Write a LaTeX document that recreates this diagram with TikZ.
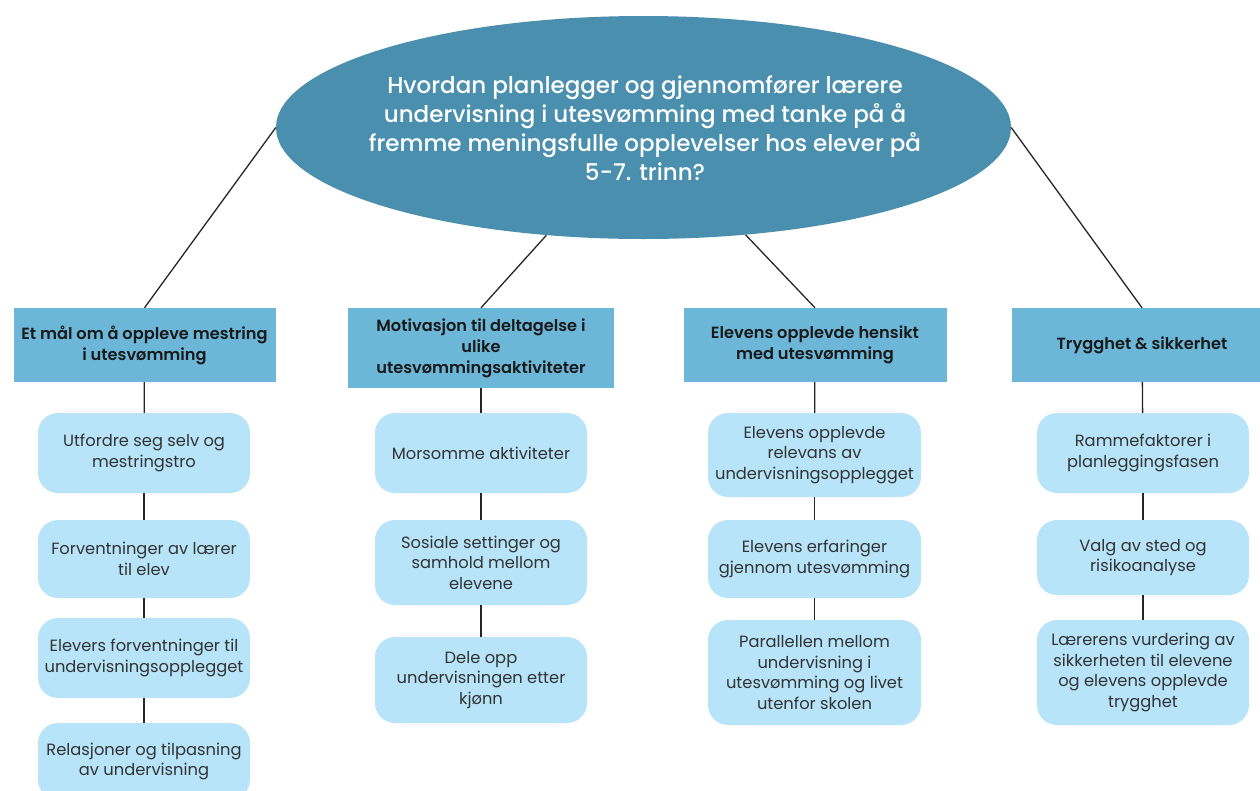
\documentclass[tikz,border=0pt]{standalone}
\usepackage{fontspec}
\setmainfont{Poppins}
\newfontfamily\medfont{Poppins Medium}
\newfontfamily\semifont{Poppins SemiBold}
\usetikzlibrary{shapes.geometric}
\definecolor{ellc}{HTML}{4A90AE}
\definecolor{hdrc}{HTML}{6CB7D8}
\definecolor{chc}{HTML}{B7E4F8}
\definecolor{txtc}{HTML}{333333}
\begin{document}
\begin{tikzpicture}[x=1pt,y=-1pt,
  hdr/.style={fill=hdrc, draw=none, inner sep=0pt, align=center,
    font=\fontsize{16.2}{21}\selectfont\semifont, text=black!90},
  child/.style={fill=chc, rounded corners=20pt, minimum width=212pt, inner sep=0pt,
    align=center, font=\fontsize{16.3}{20.5}\selectfont, text=txtc},
  link/.style={draw=black!85, line width=1.3pt}]
\useasboundingbox (0,0) rectangle (1260,790);
\clip (0,0) rectangle (1260,790);
\fill[white] (0,0) rectangle (1260,790);

% central question
\node[ellipse, fill=ellc, minimum width=735pt, minimum height=223pt, inner sep=0pt] (q) at (643.5,127.5) {};
\node[align=center, text=white, inner sep=0pt, font=\fontsize{23}{29}\selectfont\medfont] (qt) at (645,128)
  {Hvordan planlegger og gjennomfører lærere\\undervisning i utesvømming med tanke på å\\fremme meningsfulle opplevelser hos elever på\\5-7. trinn?};

% headers
\node[hdr, minimum width=262pt, minimum height=74pt] (h1) at (144.5,345)
  {Et mål om å oppleve mestring\\i utesvømming};
\node[hdr, minimum width=266pt, minimum height=80pt] (h2) at (481,348)
  {Motivasjon til deltagelse i\\ulike\\utesvømmingsaktiviteter};
\node[hdr, minimum width=263pt, minimum height=74pt] (h3) at (815,345)
  {Elevens opplevde hensikt\\med utesvømming};
\node[hdr, minimum width=260pt, minimum height=74pt] (h4) at (1142,345)
  {Trygghet \& sikkerhet};

% column 1
\node[child, minimum height=80pt] (b11) at (144,453) {Utfordre seg selv og\\mestringstro};
\node[child, minimum height=78pt] (b12) at (144,559) {Forventninger av lærer\\til elev};
\node[child, minimum height=80pt] (b13) at (144,658) {Elevers forventninger til\\undervisningsopplegget};
\node[child, minimum height=77pt] (b14) at (144,761.5) {Relasjoner og tilpasning\\av undervisning};

% column 2
\node[child, minimum height=80pt] (b21) at (481,453) {Morsomme aktiviteter};
\node[child, minimum height=85pt] (b22) at (481,562.5) {Sosiale settinger og\\samhold mellom\\elevene};
\node[child, minimum height=86pt] (b23) at (481,680) {Dele opp\\undervisningen etter\\kjønn};

% column 3
\node[child, minimum height=84pt, minimum width=213pt] (b31) at (814.5,455) {Elevens opplevde\\relevans av\\undervisningsopplegget};
\node[child, minimum height=78pt, minimum width=213pt] (b32) at (814.5,559) {Elevens erfaringer\\gjennom utesvømming};
\node[child, minimum height=105pt, minimum width=213pt] (b33) at (814.5,672.5) {Parallellen mellom\\undervisning i\\utesvømming og livet\\utenfor skolen};

% column 4
\node[child, minimum height=80pt] (b41) at (1143,453) {Rammefaktorer i\\planleggingsfasen};
\node[child, minimum height=75pt] (b42) at (1143,557.5) {Valg av sted og\\risikoanalyse};
\node[child, minimum height=105pt] (b43) at (1143,672.5) {Lærerens vurdering av\\sikkerheten til elevene\\og elevens opplevde\\trygghet};

% connectors
\draw[link] (q.west) -- (h1.north);
\draw[link] (q) -- (h2.north);
\draw[link] (q) -- (h3.north);
\draw[link] (q.east) -- (h4.north);

\draw[link] (h1) -- (b11);
\draw[link] (b11) -- (b12);
\draw[link] (b12) -- (b13);
\draw[link] (b13) -- (b14);

\draw[link] (h2) -- (b21);
\draw[link] (b21) -- (b22);
\draw[link] (b22) -- (b23);

\draw[link] (h3) -- (b31);
\draw[link] (b31) -- (b32);
\draw[link] (b32) -- (b33);

\draw[link] (h4) -- (b41);
\draw[link] (b41) -- (b42);
\draw[link] (b42) -- (b43);
\end{tikzpicture}
\end{document}
